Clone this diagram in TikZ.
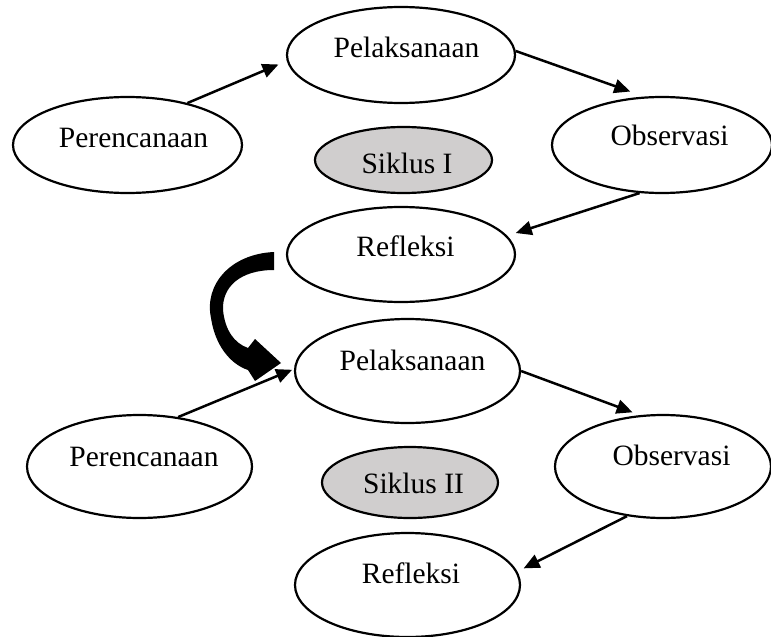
\documentclass[tikz,border=0pt]{standalone}
\usepackage{fontspec}
\setmainfont{Liberation Serif}
\usetikzlibrary{arrows.meta,shapes.geometric}
\definecolor{cycgray}{RGB}{208,206,206}
\begin{document}
\begin{tikzpicture}[x=1pt,y=-1pt,
  stage/.style={ellipse,draw,line width=2.2pt,inner sep=0pt},
  cyc/.style={stage,fill=cycgray},
  lbl/.style={font=\fontsize{29.5}{32}\selectfont,inner sep=0pt,anchor=base},
  conn/.style={line width=2.5pt,-{Triangle[length=16pt,width=14pt]}}]
\useasboundingbox (0,0) rectangle (771,637);
% cycle I
\node[stage,minimum width=229pt,minimum height=96pt] (per1) at (127.5,145) {};
\node[stage,minimum width=228pt,minimum height=96pt] (pel1) at (401,55) {};
\node[stage,minimum width=220pt,minimum height=96pt] (obs1) at (662,145) {};
\node[cyc,minimum width=177pt,minimum height=66pt] (sik1) at (403.5,160) {};
\node[stage,minimum width=228pt,minimum height=95pt] (ref1) at (401,254.5) {};
\node[lbl] (per1t) at (133.5,147) {Perencanaan};
\node[lbl] (pel1t) at (406.5,57.5) {Pelaksanaan};
\node[lbl] (obs1t) at (669.5,145) {Observasi};
\node[lbl] (sik1t) at (407,173) {Siklus I};
\node[lbl] (ref1t) at (405.5,256) {Refleksi};
% cycle II
\node[stage,minimum width=225pt,minimum height=104pt] (pel2) at (407.5,371) {};
\node[stage,minimum width=225pt,minimum height=103pt] (per2) at (139.5,466.5) {};
\node[stage,minimum width=216pt,minimum height=103pt] (obs2) at (663,466.5) {};
\node[cyc,minimum width=176pt,minimum height=71pt] (sik2) at (410,482.5) {};
\node[stage,minimum width=225pt,minimum height=104pt] (ref2) at (407.5,585) {};
\node[lbl] (per2t) at (144,466) {Perencanaan};
\node[lbl] (pel2t) at (412.5,370) {Pelaksanaan};
\node[lbl] (obs2t) at (671.5,465) {Observasi};
\node[lbl] (sik2t) at (413.5,493) {Siklus II};
\node[lbl] (ref2t) at (411,583) {Refleksi};
% connectors cycle I
\draw[conn,shorten >=9pt] (per1.35) -- (pel1.183.7);
\draw[conn,shorten >=15pt] (pel1.2.5) -- (obs1.110);
\draw[conn,shorten >=9pt] (obs1.245) -- (ref1.10);
% connectors cycle II
\draw[conn,shorten >=2pt] (per2.52.7) -- (pel2.179);
\draw[conn,shorten >=8pt] (pel2.0.5) -- (obs2.114.5);
\draw[conn,shorten >=7pt] (obs2.234.7) -- (ref2.7.8);
% big curved block arrow from Refleksi I to Pelaksanaan II
\fill (274,252) .. controls (230,254) and (204,285) .. (211,318)
  .. controls (215,345) and (230,364) .. (248,370)
  -- (255,381) -- (281,363) -- (255,339) -- (248,348)
  .. controls (234,343) and (225,330) .. (223,310)
  .. controls (222,287) and (240,270) .. (274,270) -- cycle;
\end{tikzpicture}
\end{document}
